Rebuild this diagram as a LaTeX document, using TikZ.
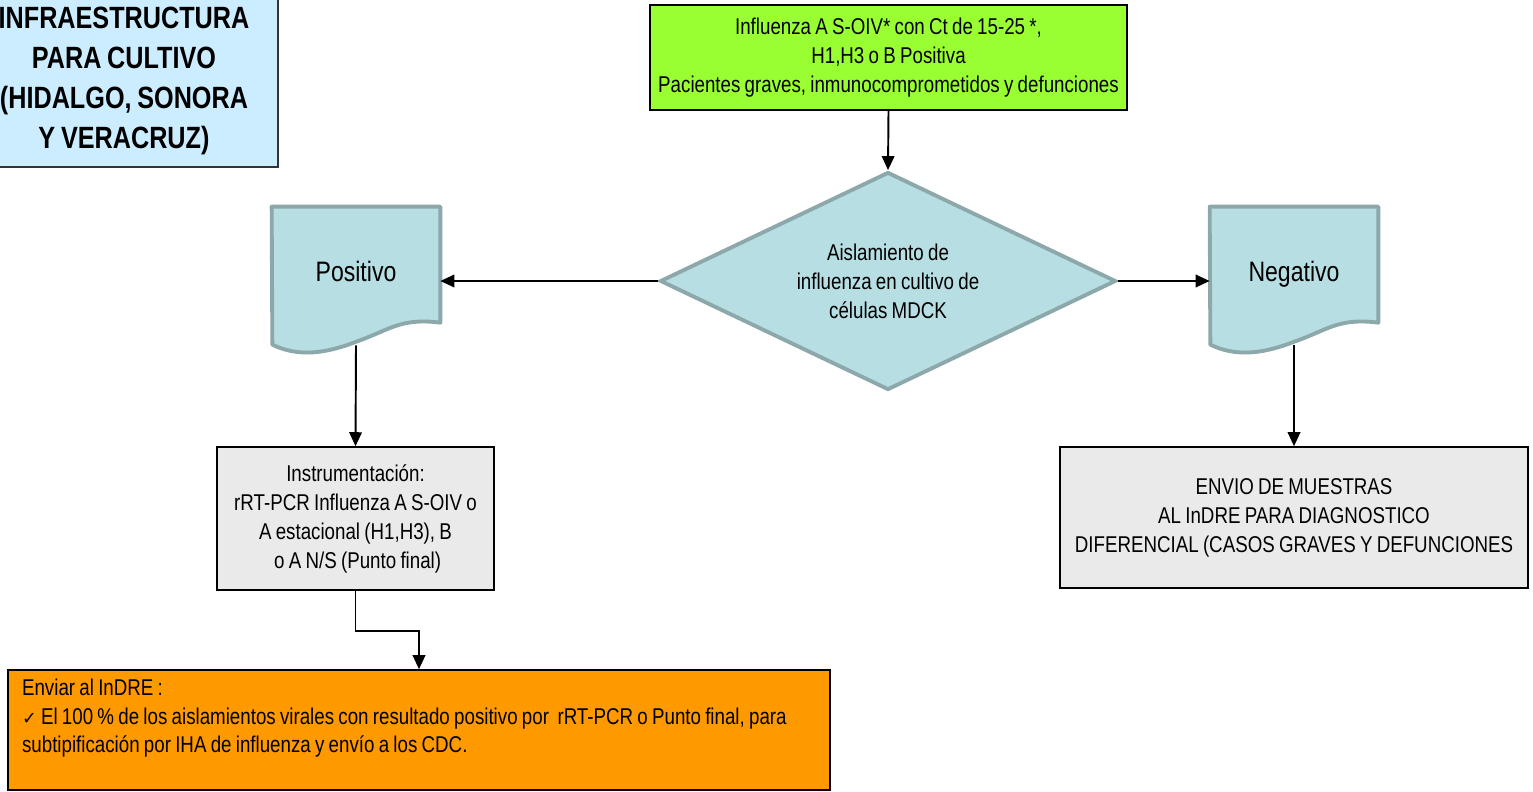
\documentclass[tikz,border=0pt]{standalone}
\usepackage{fontspec}
\setmainfont{Liberation Sans}[FakeStretch=0.82,WordSpace=0.82]
\newfontfamily\symfont{DejaVu Sans}
\usetikzlibrary{positioning,arrows.meta,shapes.geometric,backgrounds}

\definecolor{celeste}{RGB}{204,236,255}
\definecolor{verdelima}{RGB}{153,255,51}
\definecolor{aqua}{RGB}{183,222,226}
\definecolor{aquaborde}{RGB}{140,168,171}
\definecolor{grisclaro}{RGB}{234,234,234}
\definecolor{naranja}{RGB}{255,153,0}

% document-shaped outline around a node (wavy bottom)
\newcommand{\hoja}[1]{%
  \draw[docline] (#1.north west) -- (#1.north east) -- ++(0,116)
    .. controls +(-40,-5) and +(34,-12) .. ++(-84,19)
    .. controls +(-36,14) and +(23,11) .. ++(-84,3) -- cycle;}

\begin{document}
\begin{tikzpicture}[
  x=0.02cm,y=-0.02cm,
  >={Triangle[length=2.8mm,width=2.5mm]},
  font=\fontsize{13}{16.5}\selectfont,
  box/.style={draw=black,line width=0.9pt,align=center,inner sep=2pt},
  titulo/.style={box,draw=black!80,fill=celeste,minimum width=6.16cm,
                 minimum height=3.44cm,font=\bfseries\fontsize{17.5}{22.8}\selectfont},
  decision/.style={diamond,draw=aquaborde,line width=2.2pt,fill=aqua,align=center,
                   shape aspect=2.09,minimum width=9.12cm,minimum height=4.36cm,inner sep=0pt},
  docu/.style={minimum width=3.36cm,minimum height=2.76cm,inner sep=0pt,
               text depth=5.7pt,font=\fontsize{16}{18}\selectfont},
  docline/.style={draw=aquaborde,line width=2.2pt,fill=aqua,line join=round},
  link/.style={->,line width=1.1pt}]

\useasboundingbox (0,0) rectangle (1533,791);

% --- header and entry ---
\node[titulo] (titulo) at (124,81)
  {INFRAESTRUCTURA\\PARA CULTIVO\\(HIDALGO, SONORA\\Y VERACRUZ)};

\node[box,fill=verdelima,minimum width=9.54cm,minimum height=2.1cm] (sospecha) at (888.5,57.5)
  {Influenza A S-OIV* con Ct de 15-25 *,\\
   H1,H3 o B Positiva\\
   Pacientes graves, inmunocomprometidos y defunciones};

\node[decision] (dia) at (888,281)
  {Aislamiento de\\influenza en cultivo de\\células MDCK};

% --- results ---
\node[docu] (pos) at (356,276) {Positivo};
\node[docu] (neg) at (1294,276) {Negativo};
\begin{pgfonlayer}{background}
  \hoja{pos}
  \hoja{neg}
\end{pgfonlayer}

\node[box,fill=grisclaro,minimum width=5.54cm,minimum height=2.86cm] (instr) at (355.5,518.5)
  {Instrumentación:\\
   rRT-PCR Influenza A S-OIV o\\
   A estacional (H1,H3), B\\
   \ o A N/S (Punto final)};

\node[box,fill=grisclaro,minimum width=9.36cm,minimum height=2.82cm] (diferencial) at (1294,517.5)
  {ENVIO DE MUESTRAS\\
   AL InDRE PARA DIAGNOSTICO\\
   DIFERENCIAL (CASOS GRAVES Y DEFUNCIONES};

\node[box,fill=naranja,align=flush left,inner xsep=0.28cm,text width=15.88cm,
      minimum height=2.4cm,font=\fontsize{13}{16.2}\selectfont] (indre) at (419,730)
  {Enviar al InDRE :\\
   {\symfont\fontsize{10}{16.2}\selectfont ✓} El 100 \% de los aislamientos virales con resultado positivo por \ rRT-PCR o Punto final, para\\
   subtipificación por IHA de influenza y envío a los CDC.\\
   \mbox{}};

% --- arrows ---
\draw[link] (sospecha.south) -- (dia.north);
\draw[link] (dia.west) -- (dia.west -| pos.east);
\draw[link] (dia.east) -- (dia.east -| neg.west);
\draw[link] (pos.south) -- (instr.north);
\draw[link] (neg.south) -- (diferencial.north);
\draw[link] (instr.south) -- ++(0,40) -| (indre.north);

\end{tikzpicture}
\end{document}
